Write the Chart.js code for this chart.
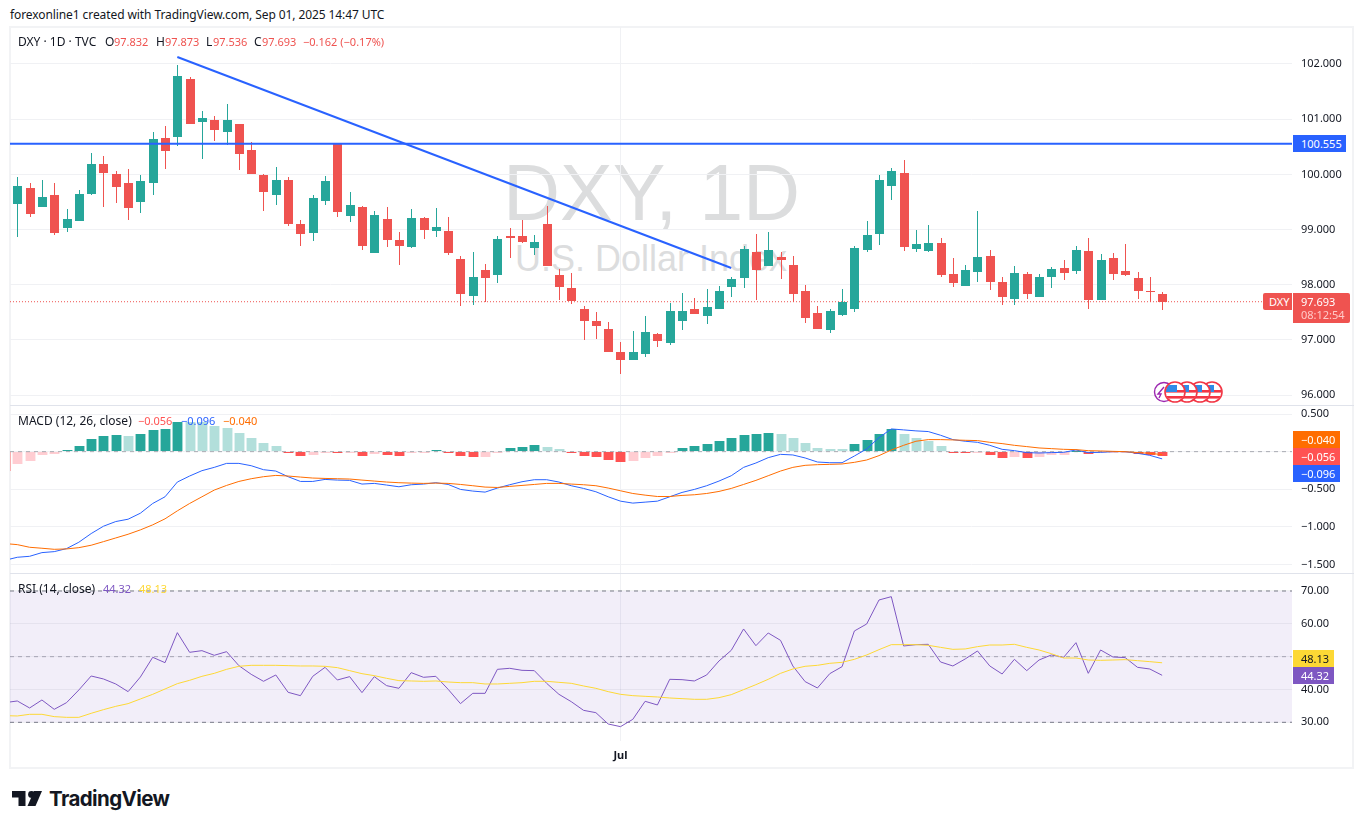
<!DOCTYPE html>
<html>
<head>
<meta charset="utf-8">
<title>DXY 1D</title>
<script src="https://cdn.jsdelivr.net/npm/chart.js@4/dist/chart.umd.min.js"></script>
<style>
  html, body { margin: 0; padding: 0; background: #fff; }
  body { width: 1364px; height: 829px; position: relative; overflow: hidden; font-family: "Noto Sans", sans-serif; font-size: 11px; color: #131722; }
  canvas { position: absolute; left: 10px; z-index: 2; }
  .t { position: absolute; white-space: pre; line-height: 14px; z-index: 5; }
  .lbl { font-size: 12px; }
  .tag { position: absolute; left: 1293px; height: 17px; line-height: 17px; padding-left: 8px; box-sizing: border-box; color: #fff; z-index: 6; }
  #frame { position: absolute; left: 9px; top: 26px; width: 1345px; height: 743px; box-sizing: border-box; border: 2px solid #f2f3f5; z-index: 1; }
  .sep { position: absolute; left: 10px; width: 1344px; height: 1px; background: #e0e3eb; z-index: 3; }
  .wm { position: absolute; font-family: "Liberation Sans", sans-serif; color: #dcddde; white-space: pre; z-index: 1; }
</style>
</head>
<body>
<div class="t" style="left:10px;top:8px;font-size:12px;letter-spacing:-0.09px" id="credit">forexonline1 created with TradingView.com, Sep 01, 2025 14:47 UTC</div>
<div id="frame"></div>
<div class="wm" style="left:503px;top:147px;font-size:79px;line-height:92px">DXY, 1D</div>
<div class="wm" style="left:515px;top:239px;font-size:36px;line-height:40px">U.S. Dollar Index</div>
<canvas id="pricePane" width="1344" height="378" style="top:27px"></canvas>
<canvas id="macdPane" width="1344" height="168" style="top:405px"></canvas>
<canvas id="rsiPane" width="1344" height="195" style="top:573px"></canvas>
<div class="sep" style="top:405px"></div>
<div class="sep" style="top:573px"></div>

<div class="t lbl" style="left:18px;top:35px">DXY · 1D · TVC</div>
<div class="t lbl" style="left:105px;top:35px">O</div><div class="t" style="left:114px;top:35px;color:#ef5350">97.832</div>
<div class="t lbl" style="left:156px;top:35px">H</div><div class="t" style="left:165px;top:35px;color:#ef5350">97.873</div>
<div class="t lbl" style="left:206px;top:35px">L</div><div class="t" style="left:213px;top:35px;color:#ef5350">97.536</div>
<div class="t lbl" style="left:254px;top:35px">C</div><div class="t" style="left:262px;top:35px;color:#ef5350">97.693</div>
<div class="t" style="left:303px;top:35px;color:#ef5350">−0.162 (−0.17%)</div>

<div class="t lbl" style="left:18px;top:414px">MACD (12, 26, close)</div>
<div class="t" style="left:138px;top:414px;color:#ff5252">−0.056</div>
<div class="t" style="left:181px;top:414px;color:#2962ff">−0.096</div>
<div class="t" style="left:223px;top:414px;color:#ff6d00">−0.040</div>

<div class="t lbl" style="left:18px;top:582px">RSI (14, close)</div>
<div class="t" style="left:103px;top:582px;color:#7e57c2">44.32</div>
<div class="t" style="left:139px;top:582px;color:#fdd835">48.13</div>

<div class="tag" style="top:135px;width:53px;background:#2962ff">100.555</div>
<div class="tag" style="left:1263px;top:293px;width:29px;padding-left:6px;background:#ef5350;border-radius:2px 0 0 2px">DXY</div>
<div class="tag" style="top:293px;width:57px;height:30px;line-height:13px;padding-top:2px;background:#ef5350;border-radius:0 2px 2px 0">97.693<br><span style="color:#ffc9c7">08:12:54</span></div>
<div class="tag" style="top:431px;width:47px;background:#ff6d00">−0.040</div>
<div class="tag" style="top:448px;width:47px;background:#ff5252">−0.056</div>
<div class="tag" style="top:465px;width:47px;background:#2962ff">−0.096</div>
<div class="tag" style="top:650px;width:41px;background:#fdd835;color:#131722">48.13</div>
<div class="tag" style="top:667px;width:41px;background:#7e57c2">44.32</div>

<svg style="position:absolute;left:1150px;top:378px;z-index:4" width="80" height="28" viewBox="0 0 80 28">
  <defs>
    <clipPath id="disc"><circle cx="0" cy="0" r="9.5"/></clipPath>
    <g id="flag">
      <circle r="10" fill="#fff"/>
      <g clip-path="url(#disc)">
        <rect x="-10" y="-2" width="20" height="2.6" fill="#f23645"/>
        <rect x="-10" y="4" width="20" height="2.6" fill="#f23645"/>
        <rect x="-9" y="-7" width="11" height="7" fill="#2e8be8"/>
      </g>
      <circle r="10" fill="none" stroke="#f23645" stroke-width="1.6"/>
    </g>
  </defs>
  <circle cx="14" cy="14" r="9.5" fill="#fff" stroke="#9c27b0" stroke-width="1.4"/>
  <path d="M14 9 L8 16 L11 16 L9 20" fill="none" stroke="#9c27b0" stroke-width="1.4"/>
  <use href="#flag" x="62" y="14"/>
  <use href="#flag" x="50" y="14"/>
  <use href="#flag" x="37" y="14"/>
  <use href="#flag" x="25" y="14"/>
</svg>

<svg style="position:absolute;left:12px;top:791px" width="31" height="16" viewBox="0 0 31 16">
  <path d="M0 0H13.5V15H6.5V6.5H0Z" fill="#131722"/>
  <circle cx="19.5" cy="3.4" r="3.4" fill="#131722"/>
  <path d="M22 0H30L23.5 15H15.5Z" fill="#131722"/>
</svg>
<div class="t" style="left:49px;top:787px;font-size:20.5px;line-height:24px;font-weight:700;font-family:Inter,'Noto Sans',sans-serif;letter-spacing:-0.6px">TradingView</div>

<script>
const opens = [99.46,99.75,99.41,99.63,99.03,99.16,99.65,100.19,100.01,99.84,99.50,99.84,100.66,100.68,101.73,100.95,100.99,100.77,100.91,100.44,
  99.99,99.63,99.90,99.10,98.94,99.52,100.56,99.25,99.41,98.58,99.19,98.81,98.69,99.21,98.98,98.98,98.47,97.80,98.27,98.18,
  98.88,98.88,98.67,99.10,98.18,97.94,97.56,97.34,97.20,96.78,96.64,96.75,97.11,96.95,97.34,97.56,97.44,97.56,97.96,98.12,
  98.59,98.34,98.50,98.36,97.89,97.49,97.18,97.45,97.56,98.63,98.92,99.79,100.03,98.65,98.61,98.76,98.20,97.98,98.23,98.52,
  98.05,97.74,98.20,97.78,98.14,98.30,98.25,98.61,97.73,98.49,98.25,98.12,97.89,97.832];
const highs = [99.95,99.84,99.90,99.84,99.37,99.72,100.39,100.33,100.06,100.10,99.99,100.77,100.88,101.98,101.76,101.15,101.06,101.28,100.92,100.59,
  100.01,100.13,99.95,99.17,99.63,99.97,100.56,99.68,99.43,99.34,99.41,98.96,99.37,99.23,99.39,99.23,98.52,98.59,98.38,98.88,
  99.03,99.17,98.90,99.43,98.29,98.21,97.62,97.51,97.33,96.96,97.16,97.44,97.13,97.67,97.85,97.76,97.92,97.98,98.14,98.70,
  98.92,98.96,98.59,98.52,98.00,97.62,97.56,97.92,98.70,99.16,99.99,100.12,100.26,98.99,99.08,98.85,98.49,98.36,99.34,98.63,
  98.14,98.34,98.23,98.20,98.32,98.45,98.70,98.85,98.56,98.58,98.74,98.23,98.14,97.873];
const lows = [98.87,99.23,99.41,98.90,98.96,99.16,99.63,99.41,99.48,99.17,99.30,99.63,100.10,100.51,100.91,100.28,100.61,100.53,100.08,100.01,
  99.34,99.45,99.07,98.70,98.79,99.45,99.23,99.14,98.63,98.58,98.69,98.36,98.67,98.83,98.87,98.54,97.62,97.63,97.69,98.03,
  98.49,98.76,98.54,98.34,97.73,97.65,97.00,97.02,96.78,96.38,96.64,96.69,96.87,96.91,97.18,97.47,97.29,97.56,97.78,97.94,
  97.73,98.34,98.11,97.69,97.31,97.20,97.13,97.44,97.51,98.59,98.72,99.54,98.61,98.59,98.59,98.14,97.96,97.98,98.05,97.91,
  97.63,97.63,97.74,97.78,97.94,98.09,98.20,97.56,97.73,98.09,98.16,97.74,97.69,97.536];
const closes = [99.79,99.28,99.59,98.94,99.19,99.65,100.19,100.03,99.77,99.39,99.88,100.64,100.42,101.78,100.91,101.02,100.80,100.99,100.37,100.01,
  99.68,99.90,99.10,98.92,99.57,99.88,99.32,99.45,98.70,99.26,98.81,98.70,99.21,98.99,99.05,98.58,97.83,98.14,98.12,98.83,
  98.85,98.78,98.78,98.34,97.96,97.71,97.34,97.25,96.78,96.64,96.78,97.15,96.98,97.53,97.53,97.47,97.60,97.89,98.11,98.65,
  98.27,98.63,98.45,97.83,97.40,97.20,97.53,97.69,98.67,98.90,99.90,100.06,98.69,98.74,98.76,98.18,98.03,98.27,98.50,98.05,
  97.78,98.21,97.83,98.14,98.29,98.21,98.63,97.73,98.45,98.20,98.18,97.89,97.87,97.693];

// drawings on the price pane, [bar index, price]
const trendLine = [[13, 102.127], [58, 98.304]];
const resistance = 100.555;
const lastPrice = 97.693;

// indicator series start one bar before the first candle (clipped at the left edge)
const macdHist = [-0.253,-0.164,-0.124,-0.044,-0.031,0.022,0.076,0.169,0.209,0.222,0.209,0.236,0.289,0.302,0.400,0.395,0.390,0.342,0.316,0.249,
  0.182,0.116,0.076,-0.009,-0.058,-0.044,-0.018,-0.022,-0.018,-0.058,-0.031,-0.044,-0.058,-0.018,-0.004,0.022,-0.004,-0.058,-0.071,-0.068,
  -0.004,0.049,0.062,0.089,0.062,0.036,-0.018,-0.058,-0.071,-0.111,-0.138,-0.124,-0.084,-0.058,-0.009,0.049,0.076,0.102,0.142,0.182,
  0.222,0.236,0.249,0.236,0.182,0.116,0.052,0.040,0.036,0.102,0.156,0.236,0.302,0.236,0.182,0.142,0.076,-0.009,-0.020,-0.016,
  -0.044,-0.084,-0.071,-0.084,-0.071,-0.047,-0.044,0.006,-0.027,-0.013,-0.006,-0.004,-0.031,-0.044,-0.056];
const macdLine = [-1.444,-1.404,-1.391,-1.342,-1.329,-1.289,-1.204,-1.089,-0.991,-0.929,-0.898,-0.818,-0.689,-0.600,-0.404,-0.324,-0.253,-0.209,-0.156,-0.156,
  -0.187,-0.240,-0.258,-0.333,-0.396,-0.396,-0.369,-0.378,-0.382,-0.431,-0.422,-0.444,-0.467,-0.440,-0.431,-0.413,-0.436,-0.502,-0.524,-0.538,
  -0.484,-0.440,-0.400,-0.373,-0.373,-0.404,-0.453,-0.489,-0.533,-0.600,-0.658,-0.684,-0.671,-0.658,-0.600,-0.542,-0.502,-0.453,-0.391,-0.320,
  -0.209,-0.151,-0.080,-0.036,-0.044,-0.084,-0.138,-0.147,-0.147,-0.058,0.036,0.187,0.302,0.289,0.276,0.267,0.218,0.160,0.138,0.124,
  0.084,0.031,0.013,-0.013,-0.018,-0.013,-0.009,0.022,-0.013,-0.009,0,0,-0.022,-0.049,-0.096];
const signalLine = [-1.222,-1.236,-1.271,-1.284,-1.298,-1.293,-1.276,-1.244,-1.196,-1.147,-1.098,-1.040,-0.973,-0.893,-0.787,-0.689,-0.600,-0.511,-0.449,-0.396,
  -0.360,-0.333,-0.316,-0.324,-0.338,-0.351,-0.356,-0.360,-0.364,-0.378,-0.391,-0.404,-0.413,-0.418,-0.422,-0.418,-0.422,-0.436,-0.453,-0.471,
  -0.476,-0.462,-0.449,-0.436,-0.422,-0.422,-0.431,-0.440,-0.453,-0.484,-0.520,-0.556,-0.578,-0.596,-0.596,-0.582,-0.573,-0.556,-0.529,-0.489,
  -0.436,-0.382,-0.320,-0.258,-0.209,-0.182,-0.173,-0.169,-0.164,-0.142,-0.111,-0.053,0.022,0.084,0.138,0.160,0.160,0.156,0.151,0.147,
  0.124,0.107,0.084,0.067,0.049,0.040,0.031,0.027,0.013,0.009,0.004,0,-0.013,-0.022,-0.040];
const rsiLine = [35.99,36.50,34.37,36.80,33.96,35.99,39.85,44.11,43.20,41.68,39.34,43.81,49.80,48.17,57.31,51.32,51.83,50.41,51.52,47.26,
  44.62,42.49,44.42,39.14,38.12,44.01,46.75,42.89,43.91,39.04,43.91,41.17,40.36,45.13,43.71,44.01,40.05,35.69,38.83,38.83,
  46.14,46.45,45.84,45.74,41.88,38.53,36.29,33.65,32.94,29.49,28.68,30.91,36.40,35.28,43.10,42.99,42.59,44.42,48.68,51.93,
  58.43,53.35,57.21,54.97,47.16,42.39,40.46,44.82,46.95,57.82,59.95,67.26,68.27,53.25,53.65,53.76,48.38,47.16,49.29,51.73,
  47.16,44.72,49.19,45.74,48.98,50.51,49.80,54.26,44.92,52.03,49.90,49.70,46.75,46.24,44.32];
const rsiMa = [32.03,31.93,32.44,32.44,31.73,31.52,31.52,32.74,33.86,34.87,35.69,37.11,38.53,40.15,41.78,42.79,44.01,44.92,46.14,47.06,
  47.36,47.36,47.36,47.26,47.16,47.16,47.06,46.65,45.74,44.82,44.21,43.40,42.69,42.59,42.49,42.59,42.28,42.08,42.08,41.68,
  41.68,41.88,42.08,42.49,42.49,42.18,41.88,41.07,40.36,39.34,38.53,38.12,37.92,37.72,37.41,37.21,37.01,37.01,37.51,38.43,
  39.95,41.47,43.10,44.92,46.24,47.06,47.36,47.97,48.27,49.19,50.51,52.13,53.65,53.65,53.65,53.45,52.84,52.23,52.34,53.05,
  53.55,53.55,53.76,52.84,52.03,50.91,49.59,49.59,48.98,48.88,48.98,49.09,48.78,48.48,48.13];

const priceTicks = [96, 97, 98, 99, 100, 101, 102];
const macdTicks = [-1.5, -1, -0.5, 0, 0.5];
const rsiTicks = [30, 40, 50, 60, 70];
const monthTicks = [{ value: 49, label: 'Jul' }];

const UP = '#26a69a', DOWN = '#ef5350';
const X_MIN = -0.593, X_MAX = 103.55;

Chart.defaults.font.family = '"Noto Sans", sans-serif';
Chart.defaults.font.size = 11;
Chart.defaults.color = '#131722';
Chart.defaults.animation = false;

// keep candles and histogram bars on whole pixels, otherwise 1px wicks go blurry
const snapBars = {
  id: 'snapBars',
  afterDatasetsUpdate(chart) {
    chart.getSortedVisibleDatasetMetas().forEach(meta => {
      if (meta.type !== 'bar') return;
      meta.data.forEach(el => {
        el.x = Math.round(el.x) + 0.5;
        el.y = Math.round(el.y);
        el.base = Math.round(el.base);
        if (el.y === el.base) el.base += 1;
      });
    });
  }
};

function xAxis(showLabels) {
  return {
    type: 'linear', min: X_MIN, max: X_MAX, offset: false,
    border: { display: false },
    grid: { color: '#f0f1f4', offset: false, drawTicks: false },
    ticks: {
      display: showLabels, padding: 8, autoSkip: false, maxRotation: 0,
      font: { weight: 'bold' },
      callback: v => (monthTicks.find(m => m.value === v) || {}).label
    },
    afterBuildTicks: s => { s.ticks = monthTicks.map(m => ({ value: m.value })); },
    afterFit: s => { s.height = showLabels ? 27 : 0; s.paddingLeft = 0; s.paddingRight = 0; }
  };
}

function yAxis(min, max, ticks, digits, gridColor) {
  return {
    position: 'right', min: min, max: max,
    border: { display: false },
    grid: { color: gridColor, drawTicks: false },
    ticks: {
      padding: 9, autoSkip: false,
      callback: v => v.toFixed(digits).replace('-', '−')
    },
    afterBuildTicks: s => { s.ticks = ticks.map(v => ({ value: v })); },
    afterFit: s => { s.width = 62; s.paddingTop = 0; s.paddingBottom = 0; }
  };
}

function hline(value, color, width, dash, order) {
  return {
    type: 'line', order: order,
    data: [{ x: X_MIN, y: value }, { x: X_MAX, y: value }],
    borderColor: color, borderWidth: width, borderDash: dash, pointRadius: 0, tension: 0
  };
}

function series(values, color) {
  return {
    type: 'line', order: 0,
    data: values.map((v, i) => ({ x: i - 1, y: v })),
    borderColor: color, borderWidth: 1, pointRadius: 0, tension: 0
  };
}

const baseOptions = {
  responsive: false,
  events: [],
  layout: { padding: 0 },
  plugins: { legend: { display: false }, tooltip: { enabled: false } }
};

const candleColors = closes.map((c, i) => c >= opens[i] ? UP : DOWN);

new Chart(document.getElementById('pricePane'), {
  type: 'bar',
  plugins: [snapBars],
  data: {
    datasets: [
      {
        order: 2, grouped: false, barPercentage: 1, maxBarThickness: 1,
        data: closes.map((c, i) => ({ x: i, y: [lows[i], highs[i]] })),
        backgroundColor: candleColors
      },
      {
        order: 1, grouped: false, barPercentage: 1, maxBarThickness: 9, minBarLength: 1,
        data: closes.map((c, i) => ({ x: i, y: [opens[i], c] })),
        backgroundColor: candleColors
      },
      hline(lastPrice, DOWN, 1, [1, 2], 3),
      hline(resistance, '#2962ff', 2, [], 0),
      {
        type: 'line', order: 0,
        data: trendLine.map(p => ({ x: p[0], y: p[1] })),
        borderColor: '#2962ff', borderWidth: 2, pointRadius: 0, tension: 0
      }
    ]
  },
  options: {
    ...baseOptions,
    scales: { x: xAxis(false), y: yAxis(95.822, 102.670, priceTicks, 3, '#f0f1f4') }
  }
});

const histColors = macdHist.map((v, i) => {
  const prev = i > 0 ? macdHist[i - 1] : v + 1;
  if (v >= 0) return v >= prev ? UP : '#b2dfdb';
  return v <= prev ? '#ff5252' : '#ffcdd2';
});

new Chart(document.getElementById('macdPane'), {
  type: 'bar',
  plugins: [snapBars],
  data: {
    datasets: [
      {
        order: 3, grouped: false, barPercentage: 1, maxBarThickness: 11,
        data: macdHist.map((v, i) => ({ x: i - 1, y: v })),
        backgroundColor: histColors
      },
      hline(0, 'rgba(120,123,134,0.6)', 1, [4, 4], 2),
      series(signalLine, '#ff6d00'),
      series(macdLine, '#2962ff')
    ]
  },
  options: {
    ...baseOptions,
    scales: { x: xAxis(false), y: yAxis(-1.613, 0.62, macdTicks, 3, '#f0f1f4') }
  }
});

new Chart(document.getElementById('rsiPane'), {
  type: 'line',
  data: {
    datasets: [
      { ...hline(70, '#787b86', 1, [4, 4], 3), fill: '+1', backgroundColor: 'rgba(126,87,194,0.1)' },
      hline(30, '#787b86', 1, [4, 4], 3),
      hline(50, 'rgba(120,123,134,0.6)', 1, [4, 4], 3),
      series(rsiMa, '#fdd835'),
      series(rsiLine, '#7e57c2')
    ]
  },
  options: {
    ...baseOptions,
    scales: { x: xAxis(true), y: yAxis(24.31, 75.48, rsiTicks, 2, 'rgba(120,123,134,0.1)') }
  }
});
</script>
</body>
</html>
